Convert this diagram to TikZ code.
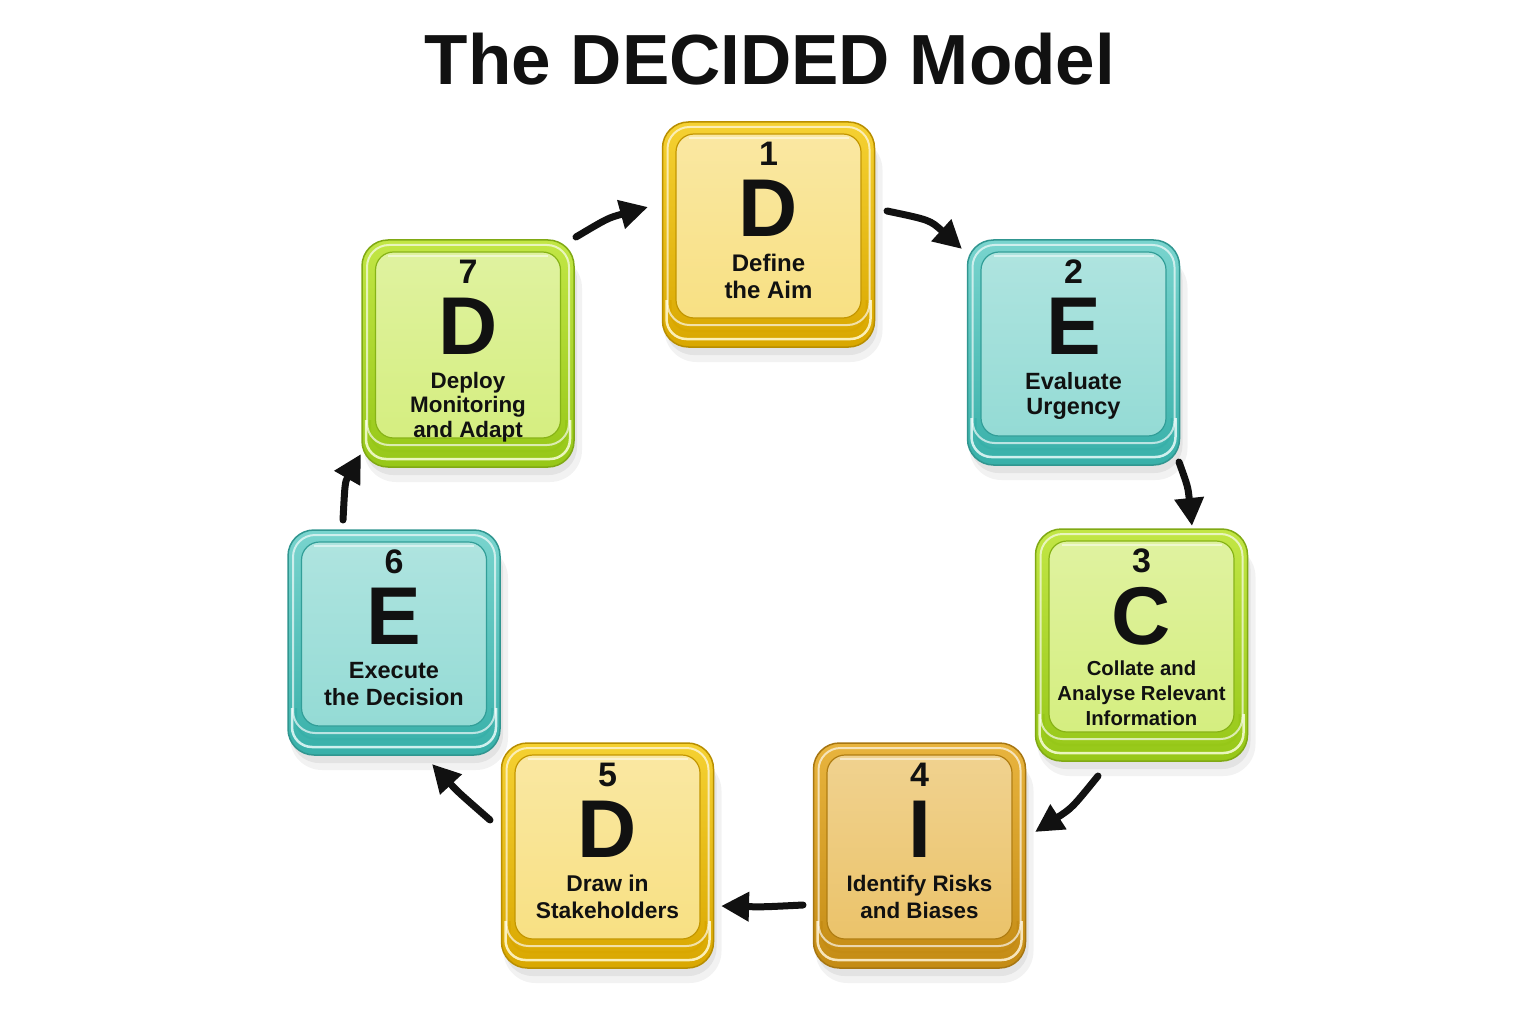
\documentclass[tikz,border=0pt]{standalone}
\usepackage{fontspec}
\setmainfont{Liberation Sans}
\usetikzlibrary{arrows.meta}
\definecolor{yEdge}{HTML}{D9A700}
\definecolor{yMid}{HTML}{F5D132}
\definecolor{yFace}{HTML}{F8E083}
\definecolor{tEdge}{HTML}{38B0A9}
\definecolor{tMid}{HTML}{79D4CE}
\definecolor{tFace}{HTML}{94DBD5}
\definecolor{lEdge}{HTML}{96C718}
\definecolor{lMid}{HTML}{C2E645}
\definecolor{lFace}{HTML}{D5EE80}
\definecolor{aEdge}{HTML}{C48B14}
\definecolor{aMid}{HTML}{E8B43E}
\definecolor{aFace}{HTML}{EBC36A}
\definecolor{ink}{HTML}{111111}
\tikzset{
  tilebase/.style={rectangle, rounded corners=26pt, minimum width=212pt, inner sep=0pt, line width=1.5pt},
  tileface/.style={rectangle, rounded corners=18pt, minimum width=185pt, inner sep=0pt, line width=1.2pt},
  numtext/.style={inner sep=0pt, text=ink, font={\fontsize{34}{38}\selectfont\bfseries}},
  bigtext/.style={inner sep=0pt, text=ink, font={\fontsize{82}{86}\selectfont\bfseries}},
  labtext/.style n args={2}{inner sep=0pt, text=ink, align=center, font={\fontsize{#1}{#2}\selectfont\bfseries}},
  flow/.style={draw=ink, line width=7pt, line cap=round, -{Triangle[length=28pt,width=28pt]}},
}
\newcommand{\tx}{0}
% name, cx, top, palette, number, letter, label size, label skip, label
\newcommand{\dtile}[9]{%
  \fill[black,opacity=0.05,rounded corners=32pt] ({#2-104},{#3+16}) rectangle ({#2+114},{#3+240+\tx});
  \fill[black,opacity=0.06,rounded corners=28pt] ({#2-103},{#3+12}) rectangle ({#2+109},{#3+233+\tx});
  \node[tilebase, minimum height={225pt+\tx pt}, top color=#4Mid, bottom color=#4Edge, draw=#4Edge!85!black] (#1) at (#2,{#3+112.5+\tx/2}) {};
  \draw[#4Mid!35!white, line width=2.5pt, rounded corners=20pt] ({#2-102},{#3+178+\tx}) -- ({#2-102},{#3+217+\tx}) -- ({#2+102},{#3+217+\tx}) -- ({#2+102},{#3+178+\tx});
  \draw[#4Edge, line width=2pt, rounded corners=20pt] ({#2-98},{#3+178+\tx}) -- ({#2-98},{#3+209+\tx}) -- ({#2+98},{#3+209+\tx}) -- ({#2+98},{#3+178+\tx});
  \draw[white, opacity=0.65, line width=2pt, rounded corners=22pt] ({#2-101},{#3+5}) rectangle ({#2+101},{#3+203+\tx});
  \node[tileface, minimum height={184pt+\tx pt}, top color=#4Face!75!white, bottom color=#4Face, draw=#4Edge!90!black] (#1f) at (#2,{#3+104+\tx/2}) {};
  \draw[white, opacity=0.5, line width=1.5pt] ({#2-80},{#3+16}) -- ({#2+80},{#3+16});
  \node[numtext, anchor=north] (#1n) at (#2,{#3+20}) {#5};
  \node[bigtext, anchor=north] (#1l) at (#2,{#3+58}) {#6};
  \node[labtext={#7}{#8}, anchor=north] (#1t) at (#2,{#3+132}) {#9};
}
\begin{document}
\begin{tikzpicture}[x=1pt,y=-1pt]
\fill[white] (0,0) rectangle (1536,1024);
\useasboundingbox (0,0) rectangle (1536,1024);
\node[inner sep=0pt, anchor=base, text=ink, font={\fontsize{71}{80}\selectfont\bfseries}] (title) at (770,85) {The DECIDED Model};

\dtile{t1}{768.5}{122}{y}{1}{D}{24}{27}{Define\\the Aim}
\dtile{t2}{1073.5}{240}{t}{2}{E}{23.5}{25.5}{Evaluate\\Urgency}
\renewcommand{\tx}{7}
\dtile{t3}{1141.5}{529}{l}{3}{C}{20.3}{25}{Collate and\\Analyse Relevant\\Information}
\renewcommand{\tx}{0}
\dtile{t4}{919.5}{743}{a}{4}{I}{22.4}{27}{Identify Risks\\and Biases}
\dtile{t5}{607.5}{743}{y}{5}{D}{22.8}{27}{Draw in\\Stakeholders}
\dtile{t6}{394}{530}{t}{6}{E}{23.5}{27}{Execute\\the Decision}
\renewcommand{\tx}{2}
\dtile{t7}{468}{240}{l}{7}{D}{22.4}{24.5}{Deploy\\Monitoring\\and Adapt}
\renewcommand{\tx}{0}

\coordinate (a1s) at (576,237);  \coordinate (a1e) at (648,207);
\coordinate (a2s) at (887,211);  \coordinate (a2e) at (962,249);
\coordinate (a3s) at (1179,462); \coordinate (a3e) at (1192,526);
\coordinate (a4s) at (1098,776); \coordinate (a4e) at (1035,832);
\coordinate (a5s) at (803,905);  \coordinate (a5e) at (721,906);
\coordinate (a6s) at (490,820);  \coordinate (a6e) at (432,764);
\coordinate (a7s) at (343,520);  \coordinate (a7e) at (361,454);

\draw[flow] (a1s) .. controls (608,218) .. (a1e);
\draw[flow] (a2s) .. controls (930,220) .. (a2e);
\draw[flow] (a3s) .. controls (1188,487) .. (a3e);
\draw[flow] (a4s) .. controls (1072,808) .. (a4e);
\draw[flow] (a5s) .. controls (763,907) .. (a5e);
\draw[flow] (a6s) .. controls (458,792) .. (a6e);
\draw[flow] (a7s) .. controls (345,482) .. (a7e);
\end{tikzpicture}
\end{document}
